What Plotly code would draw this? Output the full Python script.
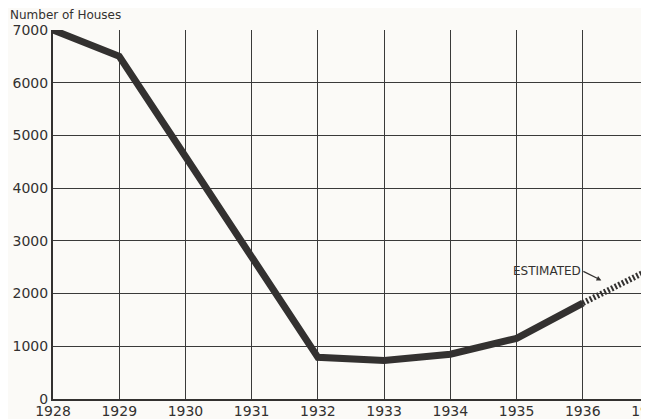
import plotly.graph_objects as go

years = [1928, 1929, 1930, 1931, 1932, 1933, 1934, 1935, 1936]
houses = [7000, 6500, 4600, 2700, 790, 730, 850, 1150, 1820]
est_years = [1936, 1937]
est_houses = [1820, 2450]
y_ticks = [0, 1000, 2000, 3000, 4000, 5000, 6000, 7000]
x_ticks = list(range(1928, 1938))

ink = '#333130'
font = 'DejaVu Sans'

fig = go.Figure()
fig.add_trace(go.Scatter(x=years, y=houses, mode='lines',
                         line=dict(color=ink, width=7), hoverinfo='skip'))
fig.add_trace(go.Scatter(x=est_years, y=est_houses, mode='lines',
                         line=dict(color=ink, width=6, dash='2px,2px'),
                         hoverinfo='skip'))

# "ESTIMATED" label with a small arrow pointing at the dashed segment
fig.add_annotation(x=1936.28, y=2250, ax=-18, ay=-9, text='ESTIMATED',
                   xanchor='right', showarrow=True, arrowhead=2,
                   arrowsize=0.8, arrowwidth=1.2, arrowcolor=ink,
                   font=dict(family=font, size=12, color=ink))
fig.add_annotation(x=0, y=1, xref='paper', yref='paper', xshift=-45,
                   yshift=6, text='Number of Houses', showarrow=False,
                   xanchor='left', yanchor='bottom',
                   font=dict(family=font, size=12, color=ink))

axis = dict(showgrid=True, gridcolor='#3a3a3a', gridwidth=1, zeroline=False,
            showline=True, linecolor=ink, linewidth=2, ticks='',
            automargin=False, tickfont=dict(family=font, size=14, color=ink))
fig.update_xaxes(range=[1928, 1937], tickvals=x_ticks,
                 ticklabeloverflow='allow', ticklabelstandoff=-2, **axis)
fig.update_yaxes(range=[0, 7000], tickvals=y_ticks, **axis)

# page body has an 8px margin, so the figure is sized/offset to compensate
fig.update_layout(width=641, height=411, showlegend=False,
                  margin=dict(l=45, r=0, t=22, b=20),
                  plot_bgcolor='#fbfaf7', paper_bgcolor='#fbfaf7')

fig.write_html('out.html')
